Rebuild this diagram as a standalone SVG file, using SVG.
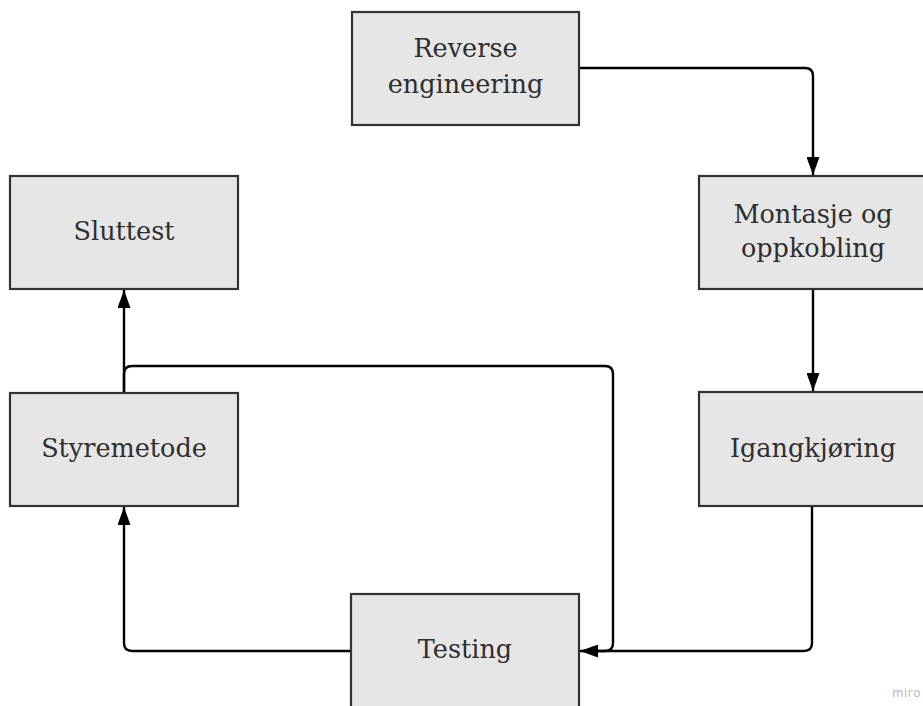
<svg xmlns="http://www.w3.org/2000/svg" width="923" height="706" viewBox="0 0 923 706">
<defs>
<style>
.box{fill:#e6e6e6;stroke:#333;stroke-width:2.2}
.lbl{font-family:"DejaVu Serif","Liberation Serif",serif;font-size:25.5px;fill:#2e2e2e;text-anchor:middle}
.con{fill:none;stroke:#000;stroke-width:2.4;stroke-linejoin:round}
</style>
<marker id="ah" markerUnits="userSpaceOnUse" markerWidth="18" markerHeight="13" viewBox="0 0 18 13" refX="18" refY="6.5" orient="auto">
<path d="M0,0 L18,6.5 L0,13 Z" fill="#000"/>
</marker>
</defs>
<rect width="923" height="706" fill="#fff"/>
<g id="connectors">
<path class="con" d="M579,68 H805 Q813,68 813,76 V175" marker-end="url(#ah)"/>
<path class="con" d="M813,289 V391" marker-end="url(#ah)"/>
<path class="con" d="M812,506 V643 Q812,651 804,651 H580" marker-end="url(#ah)"/>
<path class="con" d="M124,393 V374 Q124,366 132,366 H605 Q613,366 613,374 V643 Q613,651 605,651 H584"/>
<path class="con" d="M124,393 V290" marker-end="url(#ah)"/>
<path class="con" d="M351,651 H132 Q124,651 124,643 V507" marker-end="url(#ah)"/>
</g>
<g id="reverse-engineering">
<rect class="box" x="352" y="12" width="227" height="113"/>
<text class="lbl" x="465.5" y="57">Reverse</text>
<text class="lbl" x="465.5" y="93">engineering</text>
</g>
<g id="montasje">
<rect class="box" x="699" y="176" width="230" height="113"/>
<text class="lbl" x="813" y="223">Montasje og</text>
<text class="lbl" x="813" y="257">oppkobling</text>
</g>
<g id="igangkjoring">
<rect class="box" x="699" y="392" width="230" height="114"/>
<text class="lbl" x="813" y="457">Igangkjøring</text>
</g>
<g id="testing">
<rect class="box" x="351" y="594" width="228" height="120"/>
<text class="lbl" x="465" y="658">Testing</text>
</g>
<g id="styremetode">
<rect class="box" x="10" y="393" width="228" height="113"/>
<text class="lbl" x="124" y="457">Styremetode</text>
</g>
<g id="sluttest">
<rect class="box" x="10" y="176" width="228" height="113"/>
<text class="lbl" x="124" y="240">Sluttest</text>
</g>
<text x="921" y="697" font-family="'Open Sans','DejaVu Sans',sans-serif" font-size="12" fill="#b5b5b5" text-anchor="end" letter-spacing="0.6">miro</text>
</svg>
